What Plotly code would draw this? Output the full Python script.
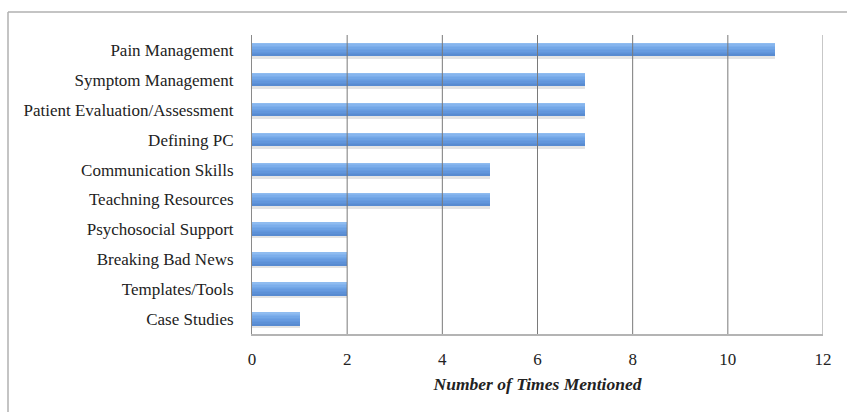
import plotly.graph_objects as go

# Topics and how often each was mentioned
topics = [
    "Pain Management",
    "Symptom Management",
    "Patient Evaluation/Assessment",
    "Defining PC",
    "Communication Skills",
    "Teachning Resources",
    "Psychosocial Support",
    "Breaking Bad News",
    "Templates/Tools",
    "Case Studies",
]
mentions = [11, 7, 7, 7, 5, 5, 2, 2, 2, 1]
x_ticks = [0, 2, 4, 6, 8, 10, 12]

SERIF = "Liberation Serif, Times New Roman, serif"
BAR_W = 0.43
# top-to-bottom shading of each bar, drawn as thin stacked strips
STRIP_COLORS = ["#8fbcf0", "#86b5ee", "#7caeeb", "#73a7e7", "#6ca1e3",
                "#679be0", "#6296dc", "#5d91d7", "#588bd1"]

fig = go.Figure()

# soft drop shadow under each bar
fig.add_trace(go.Bar(
    y=topics, x=mentions, orientation="h",
    width=BAR_W + 0.07, offset=-BAR_W / 2 + 0.02,
    marker=dict(color="rgba(90,90,90,0.16)", line=dict(width=0)),
    hoverinfo="skip", showlegend=False,
))

strip = BAR_W / len(STRIP_COLORS)
for k, c in enumerate(STRIP_COLORS):
    fig.add_trace(go.Bar(
        y=topics, x=mentions, orientation="h",
        width=strip * 1.05, offset=-BAR_W / 2 + k * strip,
        marker=dict(color=c, line=dict(width=0)),
        hoverinfo="skip" if k else None, showlegend=False,
    ))

# vertical gridlines drawn over the bars
shapes = []
for t in x_ticks[1:-1]:
    shapes.append(dict(type="line", xref="x", yref="paper", x0=t, x1=t, y0=0, y1=1,
                       line=dict(color="#7a7a7a", width=1), layer="above"))
shapes.append(dict(type="line", xref="x", yref="paper", x0=x_ticks[-1], x1=x_ticks[-1],
                   y0=0, y1=1, line=dict(color="#b4b4b4", width=1.5), layer="above"))
# outer frame (top and left edges)
shapes.append(dict(type="line", xref="paper", yref="paper", x0=-244 / 571, x1=1.2,
                   y0=1 + 23 / 299.5, y1=1 + 23 / 299.5,
                   line=dict(color="#b0b0b0", width=1.5)))
shapes.append(dict(type="line", xref="paper", yref="paper", x0=-244 / 571, x1=-244 / 571,
                   y0=-0.3, y1=1 + 23 / 299.5,
                   line=dict(color="#b0b0b0", width=1.5)))

fig.update_layout(
    width=847, height=412,
    margin=dict(l=252, r=24, t=35, b=78),
    paper_bgcolor="white", plot_bgcolor="white",
    barmode="overlay",
    bargap=0,
    shapes=shapes,
    font=dict(family=SERIF, size=17, color="#222222"),
    xaxis=dict(
        range=[0, 12], tickvals=x_ticks, ticktext=[str(v) for v in x_ticks],
        showgrid=False, zeroline=False,
        showline=True, linecolor="#b4b4b4", linewidth=1.5,
        ticks="", ticklabelstandoff=9,
        tickfont=dict(family=SERIF, size=17, color="#222222"),
        title=dict(text="<b><i>Number of Times Mentioned</i></b>",
                   font=dict(family=SERIF, size=17.5, color="#222222"), standoff=10),
    ),
    yaxis=dict(
        autorange="reversed",
        showgrid=False, zeroline=False,
        showline=True, linecolor="#8a8a8a", linewidth=1,
        ticks="", ticklabelstandoff=14,
        tickfont=dict(family=SERIF, size=17, color="#222222"),
    ),
)

fig.write_html("out.html")
